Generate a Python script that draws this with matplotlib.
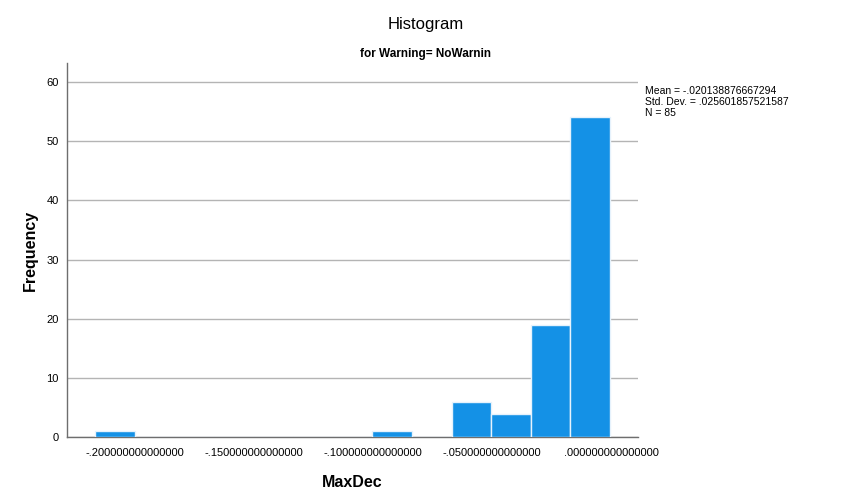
import numpy as np
import matplotlib
matplotlib.use("Agg")
import matplotlib.pyplot as plt

plt.rcParams['font.family'] = ['Liberation Sans', 'DejaVu Sans']

# histogram bins (13 bins, width ~0.0166, ending near 0)
bin_width = 0.01663
bin_right_edge = -0.0005
counts = [1, 0, 0, 0, 0, 0, 0, 1, 0, 6, 4, 19, 54]

x_ticks = [-0.20, -0.15, -0.10, -0.05, 0.0]
x_tick_labels = ["-.200000000000000", "-.150000000000000", "-.100000000000000",
                 "-.050000000000000", ".000000000000000"]
y_ticks = [0, 10, 20, 30, 40, 50, 60]

stats_lines = ["Mean = -.020138876667294",
               "Std. Dev. = .025601857521587",
               "N = 85"]

n_bins = len(counts)
lefts = bin_right_edge - bin_width * (n_bins - np.arange(n_bins))

fig = plt.figure(figsize=(8.53, 5.03), dpi=100)
ax = fig.add_axes([67 / 853, (503 - 437.3) / 503, (638 - 67) / 853, (437.3 - 63) / 503])

ax.bar(lefts, counts, width=bin_width, align="edge", color="#1491e6",
       edgecolor="#e6f2fc", linewidth=1.0, zorder=3)

ax.set_xlim(-0.2286, 0.01134)
ax.set_ylim(0, 63.2)
ax.set_xticks(x_ticks)
ax.set_xticklabels(x_tick_labels, fontsize=8)
ax.set_yticks(y_ticks)
ax.set_yticklabels([str(v) for v in y_ticks], fontsize=8)
ax.tick_params(axis="x", length=0, pad=8)
ax.tick_params(axis="y", length=0, pad=6)
ax.yaxis.grid(True, color="#b4b4b4", linewidth=1.0, zorder=0)
ax.xaxis.grid(False)
for s in ["top", "right"]:
    ax.spines[s].set_visible(False)
for s in ["left", "bottom"]:
    ax.spines[s].set_color("#6e6e6e")
    ax.spines[s].set_linewidth(1.0)

ax.set_xlabel("MaxDec", fontsize=11.5, fontweight="bold", labelpad=12)
ax.set_ylabel("Frequency", fontsize=11.5, fontweight="bold", labelpad=6)

fig.text(426 / 853, 1 - 24.5 / 503, "Histogram", ha="center", va="center", fontsize=12)
fig.text(426 / 853, 1 - 53.5 / 503, "for Warning= NoWarnin", ha="center", va="center",
         fontsize=8.5, fontweight="bold")
fig.text(645 / 853, 1 - 86 / 503, "\n".join(stats_lines), ha="left", va="top",
         fontsize=7.5, linespacing=1.1)

fig.savefig("out.png", dpi=100)
